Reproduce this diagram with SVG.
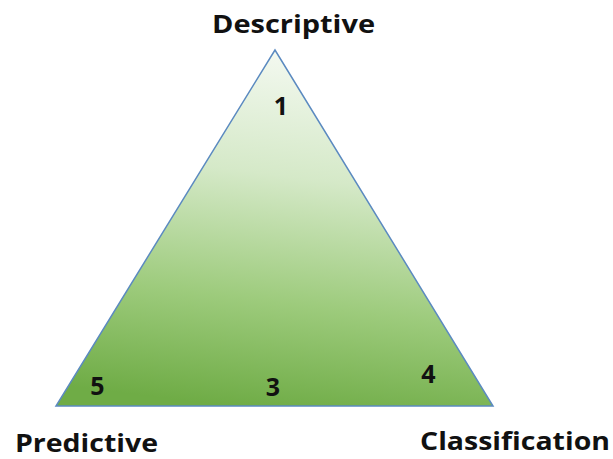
<svg xmlns="http://www.w3.org/2000/svg" width="613" height="459" viewBox="0 0 613 459">
<defs>
<linearGradient id="g" x1="0.55" y1="0" x2="0.4" y2="1">
<stop offset="0" stop-color="#f4f9f1"/>
<stop offset="0.35" stop-color="#d5e9c8"/>
<stop offset="0.7" stop-color="#9dcb7c"/>
<stop offset="1" stop-color="#6fac46"/>
</linearGradient>
<style>
.lbl{font-family:"Open Sans","Liberation Sans",sans-serif;font-weight:bold;font-size:25px;fill:#111111}
.num{font-family:"Open Sans","Liberation Sans",sans-serif;font-weight:bold;font-size:25px;fill:#111111;text-anchor:middle}
</style>
</defs>
<g id="triangle">
<polygon points="275,50 56,406 493,406" fill="url(#g)" stroke="#5b8ac0" stroke-width="1.5"/>
</g>
<g id="descriptive"><text class="lbl" x="212" y="33" textLength="163" lengthAdjust="spacingAndGlyphs">Descriptive</text></g>
<g id="predictive"><text class="lbl" x="15" y="452" font-size="23" textLength="143" lengthAdjust="spacingAndGlyphs">Predictive</text></g>
<g id="classification"><text class="lbl" x="420" y="450" textLength="190" lengthAdjust="spacingAndGlyphs">Classification</text></g>
<g id="n1"><text class="num" x="281" y="115">1</text></g>
<g id="n5"><text class="num" x="97.5" y="395">5</text></g>
<g id="n3"><text class="num" x="273" y="396">3</text></g>
<g id="n4"><text class="num" x="428.5" y="383">4</text></g>
<g id="connectors"/>
</svg>
